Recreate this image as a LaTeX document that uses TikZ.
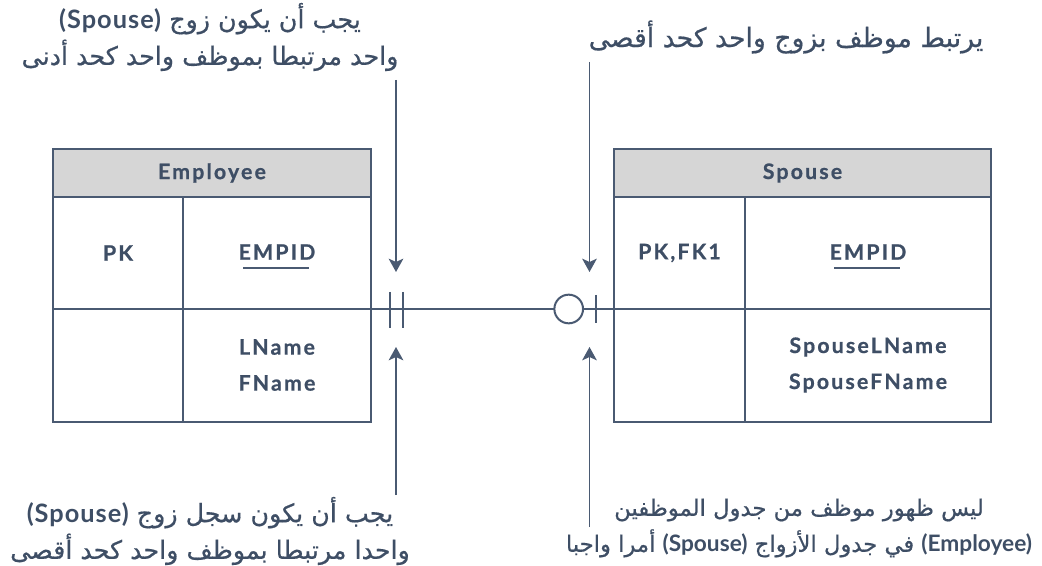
\documentclass[tikz,border=0pt]{standalone}
\usepackage{fontspec}
\setmainfont{Lato}[LetterSpace=10, BoldFeatures={FakeBold=0.7}]
\newfontfamily\arabicfont[Script=Arabic,FakeBold=0.6]{DejaVu Sans}
\newfontfamily\notelatin{Lato}[LetterSpace=4]
\newfontfamily\notelatinb{Lato}
\newcommand\lat[1]{\beginL{\notelatin\bfseries #1}\endL{}}
\newcommand\latb[1]{\beginL{\notelatinb\bfseries #1}\endL{}}
\TeXXeTstate=1
\usetikzlibrary{arrows.meta}
\definecolor{ink}{HTML}{3E4E65}
\definecolor{edge}{HTML}{4A5A72}
\definecolor{hdrfill}{HTML}{D6D6D6}
\tikzset{
  tbl/.style={draw=edge, line width=1.5pt, rectangle, inner sep=0pt},
  hdr/.style={draw=edge, line width=1.5pt, fill=hdrfill, rectangle, inner sep=0pt, text=ink, font=\bfseries\fontsize{16}{18}\selectfont},
  fld/.style={text=ink, font=\bfseries\fontsize{16}{27}\selectfont, align=center, inner sep=0pt},
  note/.style={text=ink, font=\arabicfont\fontsize{19}{27.5}\selectfont, align=center, inner sep=0pt},
  rule/.style={draw=edge, line width=1.5pt},
  arr/.style={draw=edge, line width=1.2pt, -{Stealth[length=10pt,width=11pt,inset=2.5pt]}},
}
\begin{document}
\begin{tikzpicture}[x=0.75pt,y=-0.75pt]
\useasboundingbox (0,0) rectangle (1042,566);
% Employee table
\node[tbl, minimum width=238.5pt, minimum height=204.75pt] (emp) at (212,285.5) {};
\node[hdr, minimum width=238.5pt, minimum height=36pt] (empH) at (212,173) {Employee};
\draw[rule] (183,197) -- (183,422);
\draw[rule] (53,309) -- (371,309);
\node[fld] (empPK) at (118,253) {PK};
\node[fld] (empID) at (277,252) {EMPID};
\draw[edge, line width=1.2pt] (243,268) -- (309,268);
\node[fld] (empN) at (277,365) {LName\\FName};
% Spouse table
\node[tbl, minimum width=282.75pt, minimum height=204.75pt] (sp) at (802.5,285.5) {};
\node[hdr, minimum width=282.75pt, minimum height=36pt] (spH) at (802.5,173) {Spouse};
\draw[rule] (745,197) -- (745,422);
\draw[rule] (614,309) -- (991,309);
\node[fld] (spPK) at (679.5,253) {PK,FK1};
\node[fld] (spID) at (868,252) {EMPID};
\draw[edge, line width=1.2pt] (834,268) -- (900,268);
\node[fld] (spN) at (868,365) {SpouseLName\\SpouseFName};
% relationship
\coordinate (empR) at (371,309);
\coordinate (spL) at (614,309);
\draw[rule] (empR) -- (spL);
\draw[rule] (389.5,292) -- (389.5,328);
\draw[rule] (402.5,292) -- (402.5,328);
\node[circle, draw=edge, line width=1.5pt, fill=white, minimum size=21.5pt, inner sep=0pt] (circ) at (568.7,309) {};
\draw[rule] (595.7,295) -- (595.7,323);
% notes
\node[note] (tl) at (210,37) {\beginR يجب أن يكون زوج \lat{(Spouse)}\endR\\\beginR واحد مرتبطا بموظف واحد كحد أدنى\endR};
\node[note, font=\arabicfont\fontsize{20}{27.5}\selectfont] (tr) at (786,37) {\beginR يرتبط موظف بزوج واحد كحد أقصى\endR};
\node[note] (bl) at (210,531) {\beginR يجب أن يكون سجل زوج \lat{(Spouse)}\endR\\\beginR واحدا مرتبطا بموظف واحد كحد أقصى\endR};
\node[note, font=\arabicfont\fontsize{17}{27}\selectfont] (br) at (799,528) {\beginR ليس ظهور موظف من جدول الموظفين\endR\\\beginR\latb{(Employee)} في جدول الأزواج \latb{(Spouse)} أمرا واجبا\endR};
% arrows
\coordinate (a1s) at (396,80);  \coordinate (a1e) at (396,272);
\coordinate (a2s) at (396,495); \coordinate (a2e) at (396,347);
\coordinate (a3s) at (589.5,62); \coordinate (a3e) at (589.5,272);
\coordinate (a4s) at (589.5,527); \coordinate (a4e) at (589.5,347);
\draw[arr] (a1s) -- (a1e);
\draw[arr] (a2s) -- (a2e);
\draw[arr] (a3s) -- (a3e);
\draw[arr] (a4s) -- (a4e);
\end{tikzpicture}
\end{document}
